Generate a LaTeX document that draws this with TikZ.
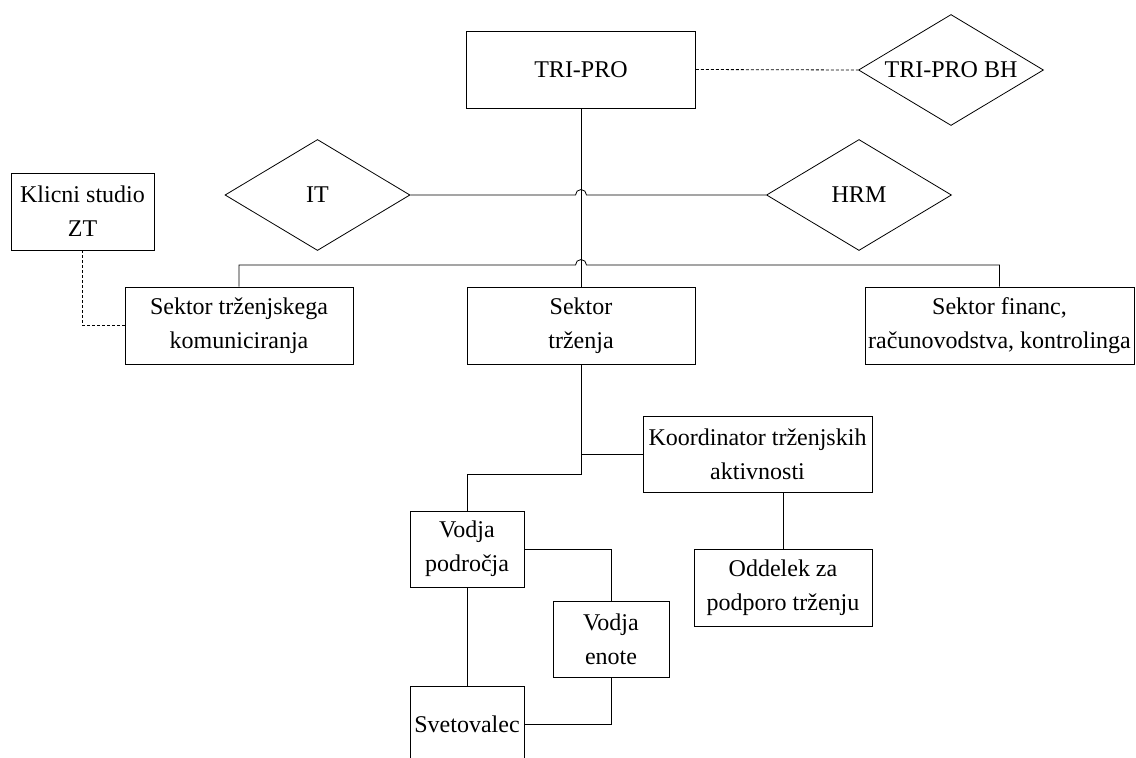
\documentclass[tikz,border=0pt]{standalone}
\usepackage{fontspec}
\setmainfont{Liberation Serif}
\usetikzlibrary{shapes.geometric}
\begin{document}
\begin{tikzpicture}[x=1pt,y=-1pt,
  txt/.style={font=\fontsize{24}{34}\selectfont},
  box/.style={draw, rectangle, inner sep=0pt, align=center, txt, line width=0.8pt},
  dia/.style={draw, diamond, inner sep=0pt, shape aspect=1.67, txt, line width=0.8pt,
              minimum width=185pt, minimum height=111pt},
  link/.style={line width=0.8pt},
  dlink/.style={line width=0.8pt, dash pattern=on 3pt off 2pt}]
\useasboundingbox (0,0) rectangle (1136,758);
\fill[white] (0,0) rectangle (1136,758);
\clip (0,0) rectangle (1136,758);

% nodes
\node[box, minimum width=229pt, minimum height=77pt] (tri) at (581,69.5) {TRI-PRO};
\node[dia] (bh) at (951,70) {TRI-PRO BH};
\node[dia] (it) at (317.5,195) {IT};
\node[dia] (hrm) at (859,195) {HRM};
\node[box, minimum width=143pt, minimum height=77pt] (kl) at (82.5,211.5) {Klicni studio\\ZT};
\node[box, minimum width=228pt, minimum height=77pt] (stk) at (239,325.5) {Sektor tr\v{z}enjskega\\komuniciranja};
\node[box, minimum width=228pt, minimum height=77pt] (st) at (581,325.5) {Sektor\\tr\v{z}enja};
\node[box, minimum width=269pt, minimum height=77pt] (sf) at (999.5,325.5) {Sektor financ,\\ra\v{c}unovodstva, kontrolinga};
\node[box, minimum width=229pt, minimum height=76pt] (ko) at (757.5,454) {Koordinator tr\v{z}enjskih\\aktivnosti};
\node[box, minimum width=178pt, minimum height=77pt] (od) at (783,587.5) {Oddelek za\\podporo tr\v{z}enju};
\node[box, minimum width=114pt, minimum height=76pt] (vp) at (467,549) {Vodja\\podro\v{c}ja};
\node[box, minimum width=116pt, minimum height=76pt] (ve) at (611,639) {Vodja\\enote};
\node[box, minimum width=114pt, minimum height=77pt] (sv) at (467,724.5) {Svetovalec};

\coordinate (bus) at (581,265);
\coordinate (j2) at (581,474);

% connectors
\draw[link] (tri.south) -- (st.north);
\draw[link] (it.east) -- ([xshift=-5.5pt]it.east -| tri.south)
   arc[start angle=180, end angle=0, radius=5.5pt] -- (hrm.west);
\draw[link] (stk.north) |- ([xshift=-5.5pt]bus)
   arc[start angle=180, end angle=0, radius=5.5pt] -| (sf.north);
\draw[link] (st.south) -- (j2) -| (vp.north);
\draw[link] (ko.west) -- (ko.west -| st.south);
\draw[link] (od.north |- ko.south) -- (od.north);
\draw[link] (vp.east) -| (ve.north);
\draw[link] (vp.south) -- (sv.north);
\draw[link] (ve.south) |- (sv.east);
\draw[dlink] (tri.east) -- (bh.west);
\draw[dlink] (kl.south) |- (stk.west);
\end{tikzpicture}
\end{document}
